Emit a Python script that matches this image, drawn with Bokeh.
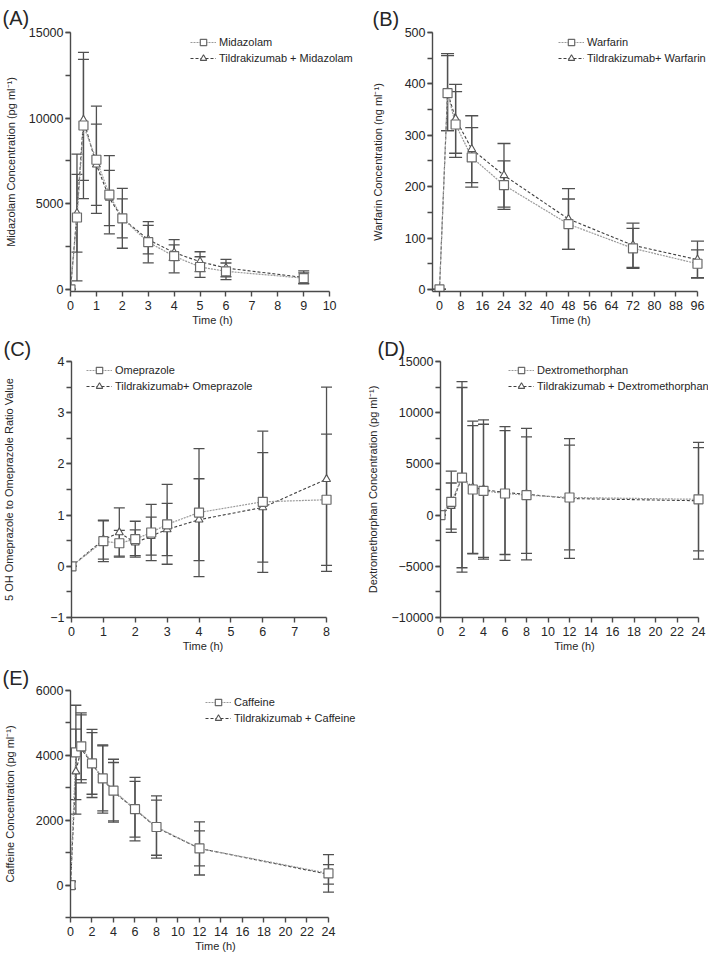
from bokeh.plotting import figure
from bokeh.models import (Range1d, SingleIntervalTicker, Whisker, TeeHead,
                          ColumnDataSource, Legend, LegendItem)
from bokeh.layouts import column, row
from bokeh.embed import file_html
from bokeh.resources import INLINE

FONT = "Liberation Sans"

# ---------------- data ----------------
# (A) Midazolam
midazolam_time = [0, 0.25, 0.5, 1, 1.5, 2, 3, 4, 5, 6, 9]
midazolam_mean = [0, 4200, 9570, 7570, 5530, 4150, 2760, 1940, 1310, 1060, 660]
midazolam_sd = [0, 3700, 4270, 3130, 2285, 1745, 1205, 970, 600, 485, 310]
tildra_midazolam_mean = [0, 4450, 9900, 7280, 5340, 4150, 2910, 2150, 1620, 1250, 700]
tildra_midazolam_sd = [0, 2270, 3530, 2370, 1610, 1135, 835, 450, 580, 510, 380]

# (B) Warfarin
warfarin_time = [0, 3, 6, 12, 24, 48, 72, 96]
warfarin_mean = [0, 382, 321, 257, 203, 127, 80, 50]
warfarin_sd = [0, 73, 64, 58, 47, 49, 39, 27]
tildra_warfarin_mean = [0, 384, 332, 273, 222, 137, 86, 58]
tildra_warfarin_sd = [0, 75, 67, 65, 62, 59, 43, 36]

# (C) Omeprazole ratio
omeprazole_time = [0, 1, 1.5, 2, 2.5, 3, 4, 6, 8]
omeprazole_mean = [0, 0.49, 0.45, 0.53, 0.66, 0.82, 1.05, 1.26, 1.30]
omeprazole_sd = [0, 0.40, 0.25, 0.35, 0.55, 0.78, 1.25, 1.38, 1.28]
tildra_omeprazole_mean = [0, 0.52, 0.66, 0.46, 0.59, 0.72, 0.91, 1.15, 1.70]
tildra_omeprazole_sd = [0, 0.38, 0.48, 0.25, 0.37, 0.51, 0.80, 1.07, 1.80]

# (D) Dextromethorphan
dextro_time = [0, 1, 2, 3, 4, 6, 8, 12, 24]
dextro_mean = [0, 1300, 3660, 2500, 2370, 2110, 1950, 1720, 1540]
dextro_sd = [0, 2990, 8800, 6230, 6500, 6530, 5680, 5120, 5040]
tildra_dextro_mean = [0, 880, 3730, 2690, 2500, 2200, 2040, 1620, 1400]
tildra_dextro_sd = [0, 2255, 9300, 6480, 6800, 6050, 6420, 5850, 5700]

# (E) Caffeine
caffeine_time = [0, 0.5, 1, 2, 3, 4, 6, 8, 12, 24]
caffeine_mean = [0, 4090, 4280, 3750, 3290, 2910, 2340, 1790, 1130, 360]
caffeine_sd = [120, 1455, 1030, 1050, 1000, 970, 980, 960, 820, 580]
tildra_caffeine_mean = [0, 3500, 4200, 3750, 3270, 2880, 2340, 1770, 1130, 330]
tildra_caffeine_sd = [100, 1310, 1050, 950, 1050, 900, 860, 850, 540, 300]

AX = "#4a4a4a"
TXT = "#262626"
SQ_LINE = "#9a9a9a"
TR_LINE = "#404040"


def whisker(p, t, m, s, cap):
    src = ColumnDataSource(dict(x=t, lo=[a - b for a, b in zip(m, s)],
                                hi=[a + b for a, b in zip(m, s)]))
    w = Whisker(source=src, base="x", upper="hi", lower="lo",
                line_color="#505050", line_width=1.3,
                upper_head=TeeHead(size=cap, line_color="#505050", line_width=1.3),
                lower_head=TeeHead(size=cap, line_color="#505050", line_width=1.3))
    p.add_layout(w)


def make_panel(letter, toff, tstand, w, h, bl, br, bt, bb, xr, xmax, yr, xint, yint,
               t, m1, s1, m2, s2, n1, n2, ylabel, ylstand, legloc, cap):
    p = figure(width=w, height=h, x_range=Range1d(*xr), y_range=Range1d(*yr),
               output_backend="svg", toolbar_location=None, tools="",
               min_border_left=bl, min_border_right=br, min_border_top=bt,
               min_border_bottom=bb, outline_line_color=None,
               background_fill_color="white", border_fill_color="white",
               title=letter)
    p.title.text_font = FONT
    p.title.text_font_size = "20px"
    p.title.text_font_style = "normal"
    p.title.text_color = TXT
    p.title.align = "left"
    p.title.offset = toff
    p.title.standoff = tstand
    p.grid.visible = False

    p.xaxis.ticker = SingleIntervalTicker(interval=xint, num_minor_ticks=0)
    p.yaxis.ticker = SingleIntervalTicker(interval=yint, num_minor_ticks=2)
    p.xaxis.bounds = (xr[0], xmax)
    for ax in (p.xaxis[0], p.yaxis[0]):
        ax.axis_line_color = AX
        ax.axis_line_width = 1.4
        ax.major_tick_line_color = AX
        ax.major_tick_line_width = 1.4
        ax.minor_tick_line_color = AX
        ax.minor_tick_line_width = 1.4
        ax.major_tick_in = 0
        ax.major_tick_out = 5
        ax.minor_tick_in = 0
        ax.minor_tick_out = 5
        ax.major_label_text_font = FONT
        ax.major_label_text_font_size = "12.5px"
        ax.major_label_text_color = TXT
        ax.axis_label_text_font = FONT
        ax.axis_label_text_font_size = "11px"
        ax.axis_label_text_font_style = "normal"
        ax.axis_label_text_color = TXT
    p.xaxis.axis_label = "Time (h)"
    p.xaxis.major_label_standoff = 4
    p.xaxis.axis_label_standoff = 1
    p.yaxis.axis_label = ylabel
    p.yaxis.major_label_standoff = 2
    p.yaxis.axis_label_standoff = ylstand

    whisker(p, t, m2, s2, cap)
    whisker(p, t, m1, s1, cap)
    l2 = p.line(t, m2, line_color=TR_LINE, line_width=1.1, line_dash="3 2")
    l1 = p.line(t, m1, line_color=SQ_LINE, line_width=1.2, line_dash="2 1")
    r2 = p.scatter(t, m2, marker="triangle", size=8, line_color="#555555",
                   fill_color="white", line_width=1.1)
    r1 = p.scatter(t, m1, marker="square", size=9, line_color="#6a6a6a",
                   fill_color="white", line_width=1.2)
    legend = Legend(items=[LegendItem(label=n1, renderers=[l1, r1]),
                           LegendItem(label=n2, renderers=[l2, r2])],
                    location=legloc, orientation="vertical",
                    label_text_font=FONT, label_text_font_size="11px",
                    label_text_color=TXT, glyph_width=26, glyph_height=16,
                    label_height=16, label_standoff=3, spacing=0, padding=0,
                    margin=0, background_fill_alpha=0, border_line_alpha=0)
    p.add_layout(legend)
    return p


pA = make_panel("(A)", -68, 8, 355, 333, 70, 1, 31, 42,
                (0, 10.96), 10, (-120, 15000), 1, 5000,
                midazolam_time, midazolam_mean, midazolam_sd,
                tildra_midazolam_mean, tildra_midazolam_sd,
                "Midazolam", "Tildrakizumab + Midazolam",
                "Midazolam Concentration (pg ml\u207b\u00b9)", 9, (120, 225), 11)

pB = make_panel("(B)", -60, 6, 354, 333, 77, 1, 31, 42,
                (-2.6, 100.1), 96, (-4, 500), 8, 100,
                warfarin_time, warfarin_mean, warfarin_sd,
                tildra_warfarin_mean, tildra_warfarin_sd,
                "Warfarin", "Tildrakizumab+ Warfarin",
                "Warfarin Concentration (ng ml\u207b\u00b9)", 18, (126, 225), 13)

pC = make_panel("(C)", -68, 3, 355, 324, 70, 21, 28, 40,
                (0, 8.25), 8, (-1, 4), 1, 1,
                omeprazole_time, omeprazole_mean, omeprazole_sd,
                tildra_omeprazole_mean, tildra_omeprazole_sd,
                "Omeprazole", "Tildrakizumab+ Omeprazole",
                "5 OH Omeprazole to Omeprazole Ratio Value", 32, (15, 223), 11)

pD = make_panel("(D)", -63, 4, 354, 324, 85, 1, 27, 40,
                (0, 24.93), 24, (-10000, 15000), 2, 5000,
                dextro_time, dextro_mean, dextro_sd,
                tildra_dextro_mean, tildra_dextro_sd,
                "Dextromethorphan", "Tildrakizumab + Dextromethorphan",
                "Dextromethorphan Concentration (pg ml\u207b\u00b9)", 9, (68, 223), 11)

pE = make_panel("(E)", -68, 4, 400, 303, 70, 40, 33, 43,
                (0, 26.98), 24, (-1000, 6000), 2, 2000,
                caffeine_time, caffeine_mean, caffeine_sd,
                tildra_caffeine_mean, tildra_caffeine_sd,
                "Caffeine", "Tildrakizumab + Caffeine",
                "Caffeine Concentration (pg ml\u207b\u00b9)", 17, (135, 191), 11)

layout = column(row(pA, pB), row(pC, pD), pE)

open("out.html", "w").write(file_html(layout, INLINE))
